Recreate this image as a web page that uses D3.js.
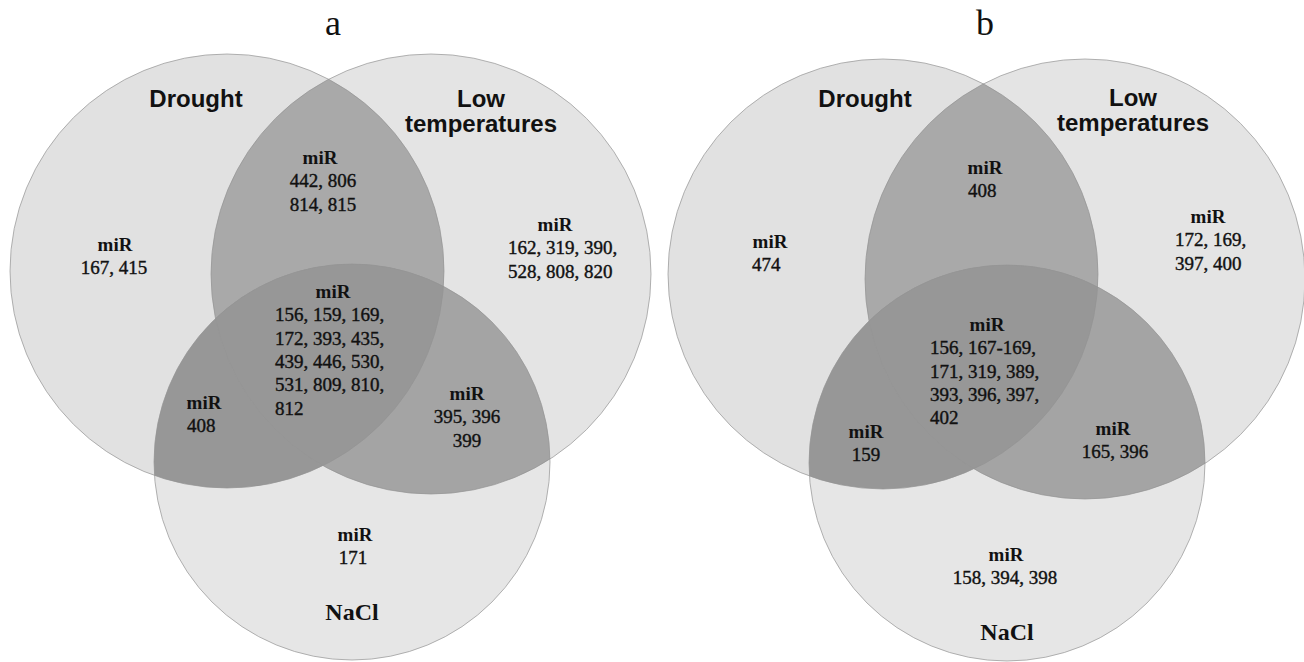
<!DOCTYPE html>
<html lang="en">
<head>
  <meta charset="UTF-8">
  <title>miRNA Venn diagrams</title>
  <script src="https://cdn.jsdelivr.net/npm/d3@7/dist/d3.min.js"></script>
  <style>
    html, body { margin: 0; padding: 0; background: #fff; }
    .venn-area { width: 1304px; height: 662px; }
    .set-label { font-family: "Liberation Sans", Arial, sans-serif; font-weight: 700; font-size: 24px; fill: #111; }
    .nacl-label { font-family: "Liberation Serif", "Times New Roman", serif; font-weight: 700; font-size: 24px; fill: #111; }
    .mir-head { font-family: "Liberation Serif", "Times New Roman", serif; font-weight: 700; font-size: 19px; fill: #111; }
    .mir-line { font-family: "Liberation Serif", "Times New Roman", serif; font-size: 19px; fill: #111; stroke: #111; stroke-width: 0.4px; }
    .panel-title { font-family: "Liberation Serif", "Times New Roman", serif; font-size: 36px; fill: #111; }
  </style>
</head>
<body>
<div class="venn-area"></div>
<script>
  // data
  const panels = ['a', 'b']
  const setNames = ['Drought', 'Low temperatures', 'NaCl']
  const regionKeys = ['D', 'L', 'N', 'DL', 'DN', 'LN', 'DLN']

  // miRNA families per region, as printed (one string per text line)
  const mirA = [
    ['167, 415'],
    ['162, 319, 390,', '528, 808, 820'],
    ['171'],
    ['442, 806', '814, 815'],
    ['408'],
    ['395, 396', '399'],
    ['156, 159, 169,', '172, 393, 435,', '439, 446, 530,', '531, 809, 810,', '812']
  ]
  const mirB = [
    ['474'],
    ['172, 169,', '397, 400'],
    ['158, 394, 398'],
    ['408'],
    ['159'],
    ['165, 396'],
    ['156, 167-169,', '171, 319, 389,', '393, 396, 397,', '402']
  ]
  const mirData = [mirA, mirB]

  // layout (pixels)
  const circleLayout = [
    [{cx: 227, cy: 271, r: 217}, {cx: 431, cy: 274, r: 220}, {cx: 352, cy: 462, r: 198}],
    [{cx: 883, cy: 274, r: 215}, {cx: 1085, cy: 279, r: 220}, {cx: 1007, cy: 463, r: 198}]
  ]
  const titleLayout = [{x: 333, y: 35}, {x: 985, y: 35}]
  const setLabelLayout = [
    [{x: 196, y: 107}, {x: 481, y: 107}, {x: 352, y: 620}],
    [{x: 865, y: 107}, {x: 1133, y: 106}, {x: 1007, y: 640}]
  ]
  // mx = centre of "miR", x/anchor = number lines, y = baseline of "miR"
  const regionLayout = [
    {
      D: {mx: 115, x: 114, anchor: 'middle', y: 251},
      L: {mx: 555, x: 508, anchor: 'start', y: 231},
      N: {mx: 355, x: 353, anchor: 'middle', y: 541},
      DL: {mx: 320, x: 323, anchor: 'middle', y: 164},
      DN: {mx: 204, x: 187, anchor: 'start', y: 409},
      LN: {mx: 467, x: 467, anchor: 'middle', y: 400},
      DLN: {mx: 333, x: 275, anchor: 'start', y: 298}
    },
    {
      D: {mx: 770, x: 752, anchor: 'start', y: 248},
      L: {mx: 1208, x: 1175, anchor: 'start', y: 223},
      N: {mx: 1006, x: 1005, anchor: 'middle', y: 561},
      DL: {mx: 985, x: 968, anchor: 'start', y: 174},
      DN: {mx: 866, x: 866, anchor: 'middle', y: 438},
      LN: {mx: 1113, x: 1115, anchor: 'middle', y: 435},
      DLN: {mx: 987, x: 930, anchor: 'start', y: 331}
    }
  ]
  const lineGap = 23.3

  const singleFill = ['#e1e1e1', '#e4e4e4', '#e6e6e6']
  const pairFill = {DL: '#a9a9a9', DN: '#979797', LN: '#a4a4a4'}
  const tripleFill = '#979797'

  const svg = d3.select('.venn-area')
    .append('svg')
    .attr('width', 1304)
    .attr('height', 662)

  const defs = svg.append('defs')

  panels.forEach(function (p, pi) {
    const circles = circleLayout[pi]
    const g = svg.append('g').attr('class', 'panel-' + p)

    circles.forEach(function (c, ci) {
      defs.append('clipPath')
        .attr('id', 'clip-' + p + '-' + ci)
        .append('circle')
        .attr('cx', c.cx).attr('cy', c.cy).attr('r', c.r)
    })

    // single sets
    g.selectAll('circle.single')
      .data(circles)
      .join('circle')
      .attr('class', 'single')
      .attr('cx', d => d.cx)
      .attr('cy', d => d.cy)
      .attr('r', d => d.r)
      .attr('fill', (d, i) => singleFill[i])

    // pairwise overlaps
    const pairs = [['DL', 0, 1], ['DN', 0, 2], ['LN', 1, 2]]
    pairs.forEach(function (pr) {
      const c = circles[pr[2]]
      g.append('g')
        .attr('clip-path', 'url(#clip-' + p + '-' + pr[1] + ')')
        .append('circle')
        .attr('cx', c.cx).attr('cy', c.cy).attr('r', c.r)
        .attr('fill', pairFill[pr[0]])
    })

    // triple overlap
    const c2 = circles[2]
    g.append('g')
      .attr('clip-path', 'url(#clip-' + p + '-0)')
      .append('g')
      .attr('clip-path', 'url(#clip-' + p + '-1)')
      .append('circle')
      .attr('cx', c2.cx).attr('cy', c2.cy).attr('r', c2.r)
      .attr('fill', tripleFill)

    // outlines
    g.selectAll('circle.outline')
      .data(circles)
      .join('circle')
      .attr('class', 'outline')
      .attr('cx', d => d.cx)
      .attr('cy', d => d.cy)
      .attr('r', d => d.r)
      .attr('fill', 'none')
      .attr('stroke', '#949494')
      .attr('stroke-width', 0.7)

    // panel title
    g.append('text')
      .attr('class', 'panel-title')
      .attr('x', titleLayout[pi].x)
      .attr('y', titleLayout[pi].y)
      .attr('text-anchor', 'middle')
      .text(p)

    // set labels
    setNames.forEach(function (name, si) {
      const pos = setLabelLayout[pi][si]
      const label = g.append('text')
        .attr('class', si === 2 ? 'nacl-label' : 'set-label')
        .attr('x', pos.x)
        .attr('y', pos.y)
        .attr('text-anchor', 'middle')
      if (si === 1) {
        const words = name.split(' ')
        label.selectAll('tspan')
          .data(words)
          .join('tspan')
          .attr('x', pos.x)
          .attr('dy', (d, i) => i === 0 ? 0 : 24.5)
          .text(d => d)
      } else {
        label.text(name)
      }
    })

    // region texts
    regionKeys.forEach(function (key, ri) {
      const pos = regionLayout[pi][key]
      const lines = mirData[pi][ri]
      g.append('text')
        .attr('class', 'mir-head')
        .attr('x', pos.mx)
        .attr('y', pos.y)
        .attr('text-anchor', 'middle')
        .text('miR')
      g.selectAll(null)
        .data(lines)
        .join('text')
        .attr('class', 'mir-line')
        .attr('x', pos.x)
        .attr('y', (d, i) => pos.y + lineGap * (i + 1))
        .attr('text-anchor', pos.anchor)
        .text(d => d)
    })
  })
</script>
</body>
</html>
